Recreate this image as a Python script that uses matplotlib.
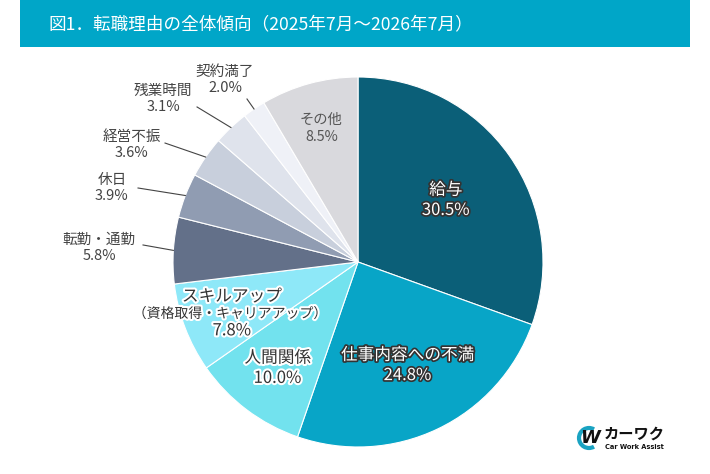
import matplotlib
matplotlib.use('Agg')
import matplotlib.pyplot as plt
import matplotlib.patheffects as pe
from matplotlib.patches import Rectangle, Arc
import numpy as np

plt.rcParams['font.family'] = ['Noto Sans CJK JP', 'DejaVu Sans']

# データ
title = '図1．転職理由の全体傾向（2025年7月～2026年7月）'
reasons = ['給与', '仕事内容への不満', '人間関係', 'スキルアップ', '転勤・通勤',
           '休日', '経営不振', '残業時間', '契約満了', 'その他']
shares = [30.5, 24.8, 10.0, 7.8, 5.8, 3.9, 3.6, 3.1, 2.0, 8.5]
skill_note = '（資格取得・キャリアアップ）'

colors = ['#0b5f78', '#08a5c7', '#72e2ee', '#8ee8f8', '#637089',
          '#909cb2', '#c8cfdc', '#dfe3ec', '#eff1f7', '#d9d9dd']

W, H = 710, 474
CX, CY, R = 358, 262, 185  # 円の中心と半径（ピクセル）

fig = plt.figure(figsize=(W / 100, H / 100), dpi=100)

# 背景（ヘッダー・ロゴ）
bg = fig.add_axes([0, 0, 1, 1])
bg.set_xlim(0, W)
bg.set_ylim(H, 0)
bg.axis('off')
bg.add_patch(Rectangle((20, 0), 670, 47, color='#00a6c8', lw=0))
bg.text(48, 24, title, color='white', fontsize=12.7, va='center', ha='left')

# ロゴ
bg.add_patch(Arc((589, 438), 20, 20, theta1=60, theta2=300, color='#1aa3c2', lw=3))
bg.text(590, 438, 'W', fontsize=13, fontweight='bold', style='italic', color='#111',
        ha='center', va='center', family=['DejaVu Sans'])
bg.text(604, 434, 'カーワク', fontsize=11, fontweight='bold', color='#111',
        ha='left', va='center')
bg.text(605, 447, 'Car Work Assist', fontsize=4.8, fontweight='bold', color='#111',
        ha='left', va='center', family=['DejaVu Sans'])

# 円グラフ
ax = fig.add_axes([0, 0, 1, 1])
ax.patch.set_alpha(0)
wedges, _ = ax.pie(shares, colors=colors, startangle=90, counterclock=False,
                   radius=1, wedgeprops=dict(edgecolor='white', linewidth=0.8))
ax.set_xlim(-CX / R, (W - CX) / R)
ax.set_ylim(-(H - CY) / R, CY / R)
ax.axis('off')

cum = np.cumsum([0] + shares[:-1])
mid = np.deg2rad(90 - 360 * (cum + np.array(shares) / 2) / 100)

dark_fx = [pe.withStroke(linewidth=2.5, foreground='#333333')]
light_fx = [pe.withStroke(linewidth=3, foreground='white')]

def pct(v):
    return '{:.1f}%'.format(v)

# 内側ラベル
inner = {0: (0.58, 'white', dark_fx), 1: (0.62, 'white', dark_fx),
         2: (0.72, '#333333', light_fx)}
for i, (r, c, fx) in inner.items():
    ax.text(r * np.cos(mid[i]), r * np.sin(mid[i]), reasons[i] + '\n' + pct(shares[i]),
            ha='center', va='center', fontsize=12, color=c, linespacing=1.25,
            path_effects=fx)

# スキルアップ（3行）
sx, sy = 0.73 * np.cos(mid[3]), 0.73 * np.sin(mid[3]) - 0.02
ax.text(sx, sy + 0.092, reasons[3], ha='center', va='center', fontsize=12,
        color='#333333', path_effects=light_fx)
ax.text(sx - 0.01, sy, skill_note, ha='center', va='center', fontsize=10,
        color='#333333', path_effects=light_fx)
ax.text(sx, sy - 0.092, pct(shares[3]), ha='center', va='center', fontsize=12,
        color='#333333', path_effects=light_fx)

# その他
ax.text(0.75 * np.cos(mid[9]), 0.75 * np.sin(mid[9]), reasons[9] + '\n' + pct(shares[9]),
        ha='center', va='center', fontsize=10.3, color='#555555', linespacing=1.3)

# 外側ラベル（引き出し線つき）
outer_text = {4: (-1.400, 0.076), 5: (-1.330, 0.400), 6: (-1.222, 0.632),
              7: (-1.054, 0.881), 8: (-0.719, 0.984)}
outer_line = {4: (-1.162, 0.092), 5: (-1.189, 0.400), 6: (-1.043, 0.643),
              7: (-0.870, 0.838), 8: (-0.600, 0.881)}
for i, (tx, ty) in outer_text.items():
    ax.text(tx, ty, reasons[i] + '\n' + pct(shares[i]), ha='center', va='center',
            fontsize=10.5, color='#444444', linespacing=1.25)
    lx, ly = outer_line[i]
    ax.plot([lx, np.cos(mid[i])], [ly, np.sin(mid[i])], color='#444444', lw=0.8,
            clip_on=False)

fig.savefig('out.png', dpi=100)
